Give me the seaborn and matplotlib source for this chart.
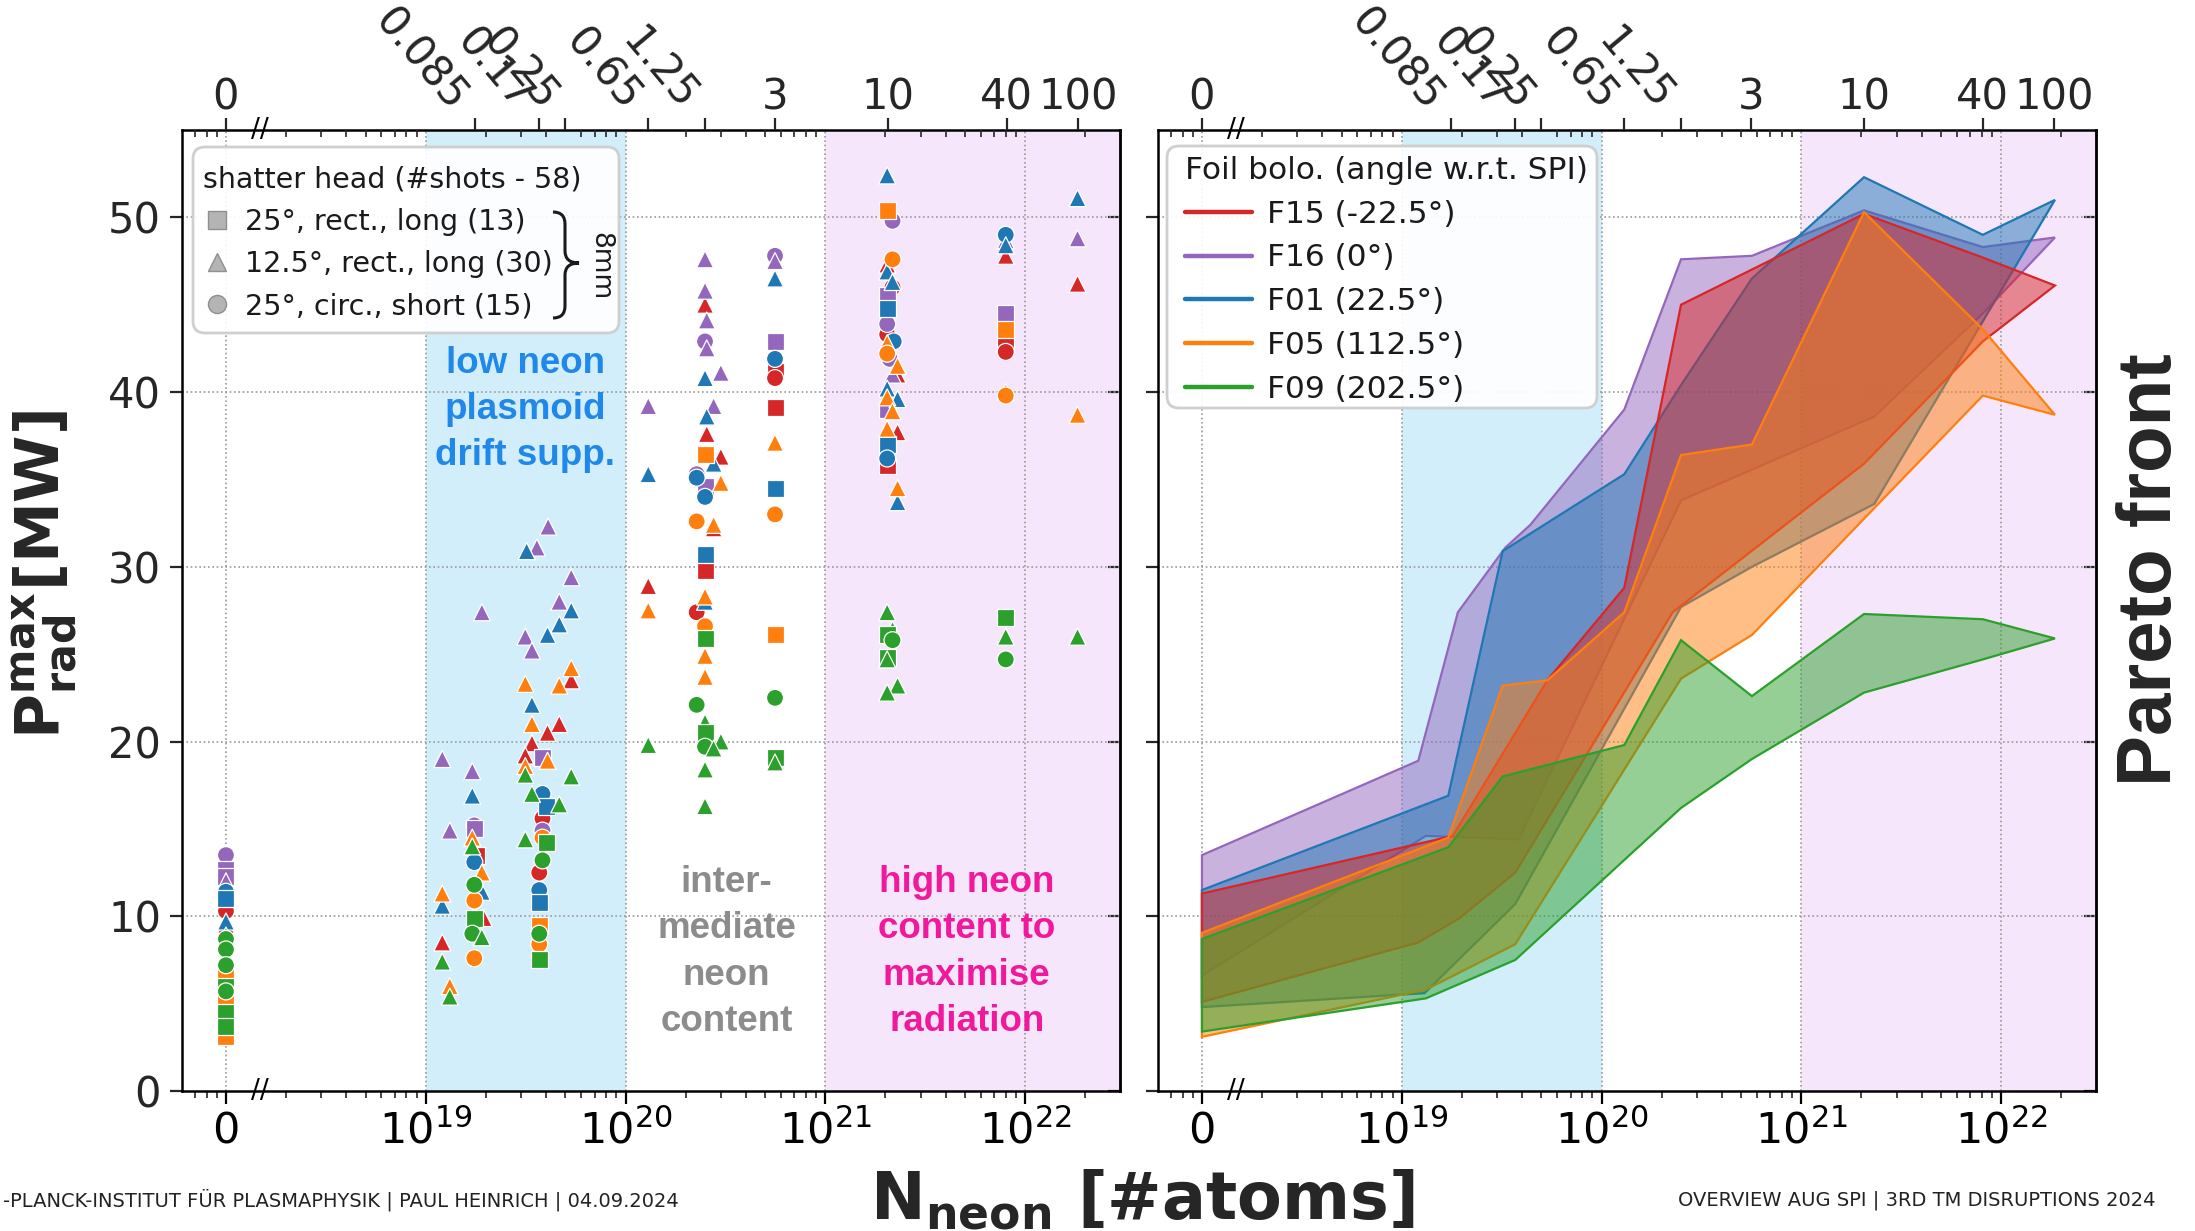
import numpy as np
import pandas as pd
import matplotlib
matplotlib.use("Agg")
import matplotlib.pyplot as plt
import seaborn as sns
from matplotlib.lines import Line2D
from matplotlib.patches import FancyBboxPatch, PathPatch
from matplotlib.path import Path
from matplotlib.ticker import LogLocator, NullFormatter
from matplotlib.colors import to_rgba
import matplotlib.transforms as mtransforms

# ------------------------------------------------------------------ data
bolo_names = ["F15", "F16", "F01", "F05", "F09"]
bolo_labels = ["F15 (-22.5°)", "F16 (0°)", "F01 (22.5°)", "F05 (112.5°)", "F09 (202.5°)"]
bolo_colors = ["#d62728", "#9467bd", "#1f77b4", "#ff7f0e", "#2ca02c"]

heads = ["sq", "tri", "circ"]
head_labels = ["25°, rect., long (13)", "12.5°, rect., long (30)", "25°, circ., short (15)"]
head_markers = {"sq": "s", "tri": "^", "circ": "o"}

bottom_tick_N = [0, 1e19, 1e20, 1e21, 1e22]
bottom_tick_labels = ["0", r"$10^{19}$", r"$10^{20}$", r"$10^{21}$", r"$10^{22}$"]
top_tick_labels = ["0", "0.085", "0.17", "0.25", "0.65", "1.25", "3", "10", "40", "100"]
top_tick_N = [0, 1.76e19, 3.7e19, 5.0e19, 1.3e20, 2.5e20, 5.6e20, 2.05e21, 8.1e21, 1.84e22]
rotated_top = ["0.085", "0.17", "0.25", "0.65", "1.25"]
y_ticks = [0, 10, 20, 30, 40, 50]

# scatter points per bolometer: N_neon [atoms], P_rad^max [MW], shatter head
F15_N = [0, 0, 0, 1.21e19, 1.8e19, 1.95e19, 5.35e19, 4.66e19, 4.07e19, 3.4e19, 3.15e19, 3.84e19, 3.7e19,
         1.3e20, 2.5e20, 2.55e20, 3.0e20, 2.5e20, 2.27e20, 2.76e20, 5.6e20, 5.6e20, 5.6e20,
         2.04e21, 2.17e21, 2.04e21, 2.3e21, 2.3e21, 2.04e21, 8e21, 8e21, 8e21, 1.83e22]
F15_P = [11.1, 10.3, 9.5, 8.5, 13.5, 9.9, 23.5, 21.0, 20.5, 19.9, 19.2, 15.6, 12.5,
         28.9, 45.0, 37.6, 36.3, 29.8, 27.4, 32.2, 41.2, 40.8, 39.1,
         47.3, 46.0, 43.3, 41.0, 37.7, 35.8, 47.8, 42.8, 42.3, 46.2]
F15_head = ["sq", "circ", "tri", "tri", "sq", "tri", "tri", "tri", "tri", "tri", "tri", "circ", "circ",
            "tri", "tri", "tri", "tri", "sq", "circ", "tri", "sq", "circ", "sq",
            "tri", "circ", "circ", "tri", "tri", "sq", "tri", "sq", "circ", "tri"]

F16_N = [0, 0, 0, 0, 1.21e19, 1.32e19, 1.71e19, 1.91e19, 1.75e19, 1.75e19,
         4.1e19, 3.6e19, 5.35e19, 4.66e19, 3.15e19, 3.4e19, 3.84e19, 3.84e19,
         1.3e20, 2.5e20, 2.5e20, 2.55e20, 2.5e20, 2.55e20, 3.0e20, 2.76e20, 2.27e20, 2.5e20,
         5.6e20, 5.6e20, 5.6e20, 2.17e21, 2.04e21, 2.04e21, 2.1e21, 2.17e21, 2.04e21,
         8e21, 8e21, 1.83e22]
F16_P = [13.5, 12.7, 12.3, 12.0, 19.0, 14.9, 18.3, 27.4, 15.2, 15.0,
         32.3, 31.1, 29.4, 28.0, 26.0, 25.2, 19.1, 14.9,
         39.2, 47.6, 45.8, 44.1, 42.9, 42.5, 41.1, 39.2, 35.3, 34.6,
         47.8, 47.5, 42.9, 49.8, 45.5, 43.9, 41.9, 41.0, 39.0,
         48.7, 44.5, 48.8]
F16_head = ["circ", "sq", "sq", "tri", "tri", "tri", "tri", "tri", "circ", "sq",
            "tri", "tri", "tri", "tri", "tri", "tri", "sq", "circ",
            "tri", "tri", "tri", "tri", "circ", "tri", "tri", "tri", "circ", "sq",
            "circ", "tri", "sq", "circ", "sq", "circ", "circ", "tri", "sq",
            "tri", "sq", "tri"]

F01_N = [0, 0, 0, 1.21e19, 1.71e19, 1.75e19, 1.91e19,
         3.2e19, 5.35e19, 4.66e19, 4.07e19, 3.4e19, 3.84e19, 4.0e19, 3.7e19, 3.7e19,
         1.3e20, 2.5e20, 2.55e20, 2.76e20, 2.27e20, 2.5e20, 2.5e20, 2.5e20,
         5.6e20, 5.6e20, 5.6e20,
         2.04e21, 2.04e21, 2.17e21, 2.04e21, 2.2e21, 2.04e21, 2.3e21, 2.04e21, 2.04e21, 2.3e21,
         8e21, 8e21, 1.83e22]
F01_P = [11.4, 11.0, 9.7, 10.6, 16.9, 13.1, 11.4,
         30.9, 27.5, 26.7, 26.1, 22.1, 17.0, 16.3, 11.5, 10.8,
         35.3, 40.8, 38.6, 35.9, 35.1, 34.0, 30.7, 28.0,
         46.5, 41.9, 34.5,
         52.4, 46.9, 46.3, 44.8, 42.9, 40.2, 39.6, 37.0, 36.2, 33.7,
         49.0, 48.4, 51.1]
F01_head = ["circ", "sq", "tri", "tri", "tri", "circ", "tri",
            "tri", "tri", "tri", "tri", "tri", "circ", "sq", "circ", "sq",
            "tri", "tri", "tri", "tri", "circ", "circ", "sq", "tri",
            "tri", "circ", "sq",
            "tri", "tri", "tri", "sq", "circ", "tri", "tri", "sq", "circ", "tri",
            "circ", "tri", "tri"]

F05_N = [0, 0, 0, 0, 1.21e19, 1.32e19, 1.71e19, 1.91e19, 1.75e19, 1.75e19,
         5.35e19, 3.15e19, 4.66e19, 3.4e19, 4.07e19, 3.15e19, 3.84e19, 3.7e19, 3.7e19,
         1.3e20, 2.5e20, 3.0e20, 2.27e20, 2.76e20, 2.5e20, 2.5e20, 2.5e20, 2.5e20,
         5.6e20, 5.6e20, 5.6e20,
         2.04e21, 2.17e21, 2.04e21, 2.04e21, 2.3e21, 2.04e21, 2.17e21, 2.04e21, 2.3e21,
         8e21, 8e21, 8e21, 1.83e22]
F05_P = [6.6, 5.6, 5.1, 3.1, 11.3, 6.0, 14.5, 12.5, 10.9, 7.6,
         24.2, 23.3, 23.2, 21.0, 18.9, 18.6, 14.5, 9.5, 8.4,
         27.5, 36.4, 34.8, 32.6, 32.4, 28.3, 26.6, 24.9, 23.7,
         37.1, 33.0, 26.1,
         50.4, 47.6, 42.8, 42.2, 41.5, 39.7, 38.9, 37.9, 34.5,
         43.6, 40.0, 39.8, 38.7]
F05_head = ["sq", "tri", "sq", "sq", "tri", "tri", "tri", "tri", "circ", "circ",
            "tri", "tri", "tri", "tri", "tri", "tri", "circ", "sq", "circ",
            "tri", "sq", "tri", "circ", "tri", "tri", "circ", "tri", "tri",
            "tri", "circ", "sq",
            "sq", "circ", "tri", "circ", "tri", "tri", "tri", "tri", "tri",
            "sq", "tri", "circ", "tri"]

F09_N = [0, 0, 0, 0, 0, 0, 0, 0, 1.21e19, 1.32e19, 1.71e19, 1.75e19, 1.75e19, 1.71e19, 1.91e19,
         3.15e19, 5.35e19, 3.4e19, 4.66e19, 3.15e19, 4.0e19, 3.84e19, 3.7e19, 3.7e19,
         1.3e20, 2.5e20, 2.27e20, 2.5e20, 2.5e20, 3.0e20, 2.5e20, 2.76e20, 2.5e20, 2.5e20,
         5.6e20, 5.6e20, 5.6e20,
         2.04e21, 2.17e21, 2.04e21, 2.17e21, 2.04e21, 2.04e21, 2.3e21, 2.04e21,
         8e21, 8e21, 8e21, 1.83e22]
F09_P = [8.9, 8.7, 8.1, 7.2, 6.0, 5.7, 4.5, 3.7, 7.4, 5.4, 14.0, 11.8, 9.9, 9.0, 8.8,
         18.1, 18.0, 17.0, 16.4, 14.4, 14.2, 13.2, 9.0, 7.5,
         19.8, 25.9, 22.1, 21.1, 20.5, 20.0, 19.7, 19.6, 18.4, 16.3,
         22.5, 19.1, 18.8,
         27.4, 26.4, 26.1, 25.8, 24.8, 24.7, 23.2, 22.8,
         27.1, 26.0, 24.7, 26.0]
F09_head = ["tri", "circ", "circ", "circ", "sq", "circ", "sq", "sq", "tri", "tri", "tri", "circ", "sq", "circ", "tri",
            "tri", "tri", "tri", "tri", "tri", "sq", "circ", "circ", "sq",
            "tri", "sq", "circ", "tri", "sq", "tri", "circ", "tri", "tri", "tri",
            "circ", "sq", "tri",
            "tri", "tri", "sq", "circ", "sq", "tri", "tri", "tri",
            "sq", "tri", "circ", "tri"]

# Pareto front envelopes per bolometer (upper / lower edges)
F15_up_N = [0, 1.8e19, 5.35e19, 1.3e20, 2.5e20, 2.06e21, 8.1e21, 1.86e22]
F15_up_P = [11.3, 14.6, 23.5, 28.8, 45.0, 50.2, 47.7, 46.1]
F15_lo_N = [0, 1.21e19, 1.95e19, 3.7e19, 2.27e20, 2.06e21, 8.1e21, 1.86e22]
F15_lo_P = [5.1, 8.5, 9.9, 12.5, 27.4, 35.9, 42.9, 46.1]

F16_up_N = [0, 1.21e19, 1.91e19, 3.3e19, 4.4e19, 1.3e20, 2.5e20, 5.66e20, 2.06e21, 8.1e21, 1.86e22]
F16_up_P = [13.5, 18.9, 27.4, 31.1, 32.4, 39.0, 47.6, 47.8, 50.4, 48.3, 48.85]
F16_lo_N = [0, 1.32e19, 3.84e19, 2.5e20, 2.32e21, 8.1e21, 1.86e22]
F16_lo_P = [6.6, 14.6, 14.4, 33.8, 38.6, 44.5, 48.85]

F01_up_N = [0, 1.71e19, 3.2e19, 1.3e20, 2.5e20, 5.66e20, 2.06e21, 8.1e21, 1.86e22]
F01_up_P = [11.5, 16.9, 30.9, 35.3, 40.4, 46.5, 52.3, 49.0, 51.0]
F01_lo_N = [0, 1.3e19, 3.7e19, 2.5e20, 5.66e20, 2.32e21, 1.86e22]
F01_lo_P = [4.8, 5.6, 10.7, 27.7, 30.0, 33.6, 51.0]

F05_up_N = [0, 1.71e19, 3.2e19, 5.35e19, 1.3e20, 2.5e20, 5.66e20, 2.06e21, 8.1e21, 1.86e22]
F05_up_P = [9.05, 14.5, 23.2, 23.5, 27.4, 36.4, 37.0, 50.3, 43.6, 38.7]
F05_lo_N = [0, 1.32e19, 3.7e19, 2.5e20, 5.66e20, 8.1e21, 1.86e22]
F05_lo_P = [3.1, 5.8, 8.4, 23.6, 26.1, 39.8, 38.7]

F09_up_N = [0, 1.71e19, 3.2e19, 1.3e20, 2.5e20, 5.66e20, 2.06e21, 8.1e21, 1.86e22]
F09_up_P = [8.7, 13.95, 18.0, 19.8, 25.8, 22.6, 27.3, 27.0, 25.9]
F09_lo_N = [0, 1.32e19, 3.7e19, 2.5e20, 5.66e20, 2.06e21, 8.1e21, 1.86e22]
F09_lo_P = [3.4, 5.3, 7.5, 16.2, 19.0, 22.8, 24.7, 25.9]

# ------------------------------------------------------------------ setup
W, H = 2195, 1231
ZERO = 1e18            # where "0 atoms" sits on the broken log axis
BREAK_X = 1.48e18
XMIN, XMAX = 10 ** 17.78, 10 ** 22.475
LOW_BG, HIGH_BG = "#d2eefb", "#f6e6fc"


def fx(px):
    return px / W


def fy(py):
    return 1 - py / H


def zpos(values):
    return [ZERO if v == 0 else v for v in values]


sns.set_theme(style="white")
plt.rcParams["font.family"] = ["DejaVu Sans"]
plt.rcParams["mathtext.fontset"] = "dejavusans"

fig = plt.figure(figsize=(W / 100, H / 100), dpi=100)
fig.patch.set_facecolor("white")

ax_pos_b, ax_h = fy(1091), (1091 - 130) / H
axL = fig.add_axes([fx(182), ax_pos_b, 938 / W, ax_h])
axR = fig.add_axes([fx(1158), ax_pos_b, 938 / W, ax_h])


def style_axes(ax, ylabels):
    ax.set_xscale("log")
    ax.set_xlim(XMIN, XMAX)
    ax.set_ylim(0, 55)
    ax.axvspan(1e19, 1e20, color=LOW_BG, lw=0, zorder=0)
    ax.axvspan(1e21, XMAX, color=HIGH_BG, lw=0, zorder=0)
    for xv in zpos(bottom_tick_N):
        ax.axvline(xv, color="#9a9a9a", ls=(0, (1, 1.6)), lw=1.2, zorder=0.5)
    for yv in y_ticks[1:]:
        ax.axhline(yv, color="#9a9a9a", ls=(0, (1, 1.6)), lw=1.2, zorder=0.5)
    ax.set_xticks(zpos(bottom_tick_N))
    ax.set_xticklabels(bottom_tick_labels)
    ax.xaxis.set_minor_locator(LogLocator(base=10, subs=np.arange(2, 10), numticks=60))
    ax.xaxis.set_minor_formatter(NullFormatter())
    ax.tick_params(axis="x", which="major", direction="out", length=9, width=1.6,
                   labelsize=31, pad=5, bottom=True, top=False, colors="black")
    ax.tick_params(axis="x", which="minor", direction="out", length=5, width=1.2,
                   bottom=True, top=False)
    ax.set_yticks(y_ticks)
    ax.tick_params(axis="y", which="major", direction="out", length=9, width=1.6,
                   labelsize=30, left=True, right=False, labelleft=ylabels, pad=6)
    for sp in ax.spines.values():
        sp.set_visible(True)
        sp.set_color("black")
        sp.set_linewidth(1.8)
    sec = ax.secondary_yaxis("right")
    sec.set_yticks(y_ticks)
    sec.tick_params(direction="in", length=9, width=1.6, labelright=False)
    sec.spines["right"].set_linewidth(1.8)

    axT = ax.twiny()
    axT.set_xscale("log")
    axT.set_xlim(XMIN, XMAX)
    axT.set_xticks(zpos(top_tick_N))
    axT.set_xticklabels(top_tick_labels)
    axT.xaxis.set_minor_locator(LogLocator(base=10, subs=np.arange(2, 10), numticks=60))
    axT.xaxis.set_minor_formatter(NullFormatter())
    axT.tick_params(axis="x", which="major", direction="out", length=9, width=1.6,
                    labelsize=30, pad=-1)
    axT.tick_params(axis="x", which="minor", direction="in", length=5, width=1.2)
    for sp in axT.spines.values():
        sp.set_visible(False)
    for lbl in axT.get_xticklabels():
        if lbl.get_text() in rotated_top:
            lbl.set_rotation(-50)
            lbl.set_ha("right")
    tr = mtransforms.blended_transform_factory(ax.transData, ax.transAxes)
    for yv in (0, 1):
        ax.text(BREAK_X, yv, "//", transform=tr, ha="center", va="center",
                fontsize=19, color="black", clip_on=False, zorder=10)


style_axes(axL, True)
style_axes(axR, False)

# ------------------------------------------------------------------ left: scatter
frames = []
for name, N, P, hd in [("F15", F15_N, F15_P, F15_head), ("F16", F16_N, F16_P, F16_head),
                       ("F01", F01_N, F01_P, F01_head), ("F05", F05_N, F05_P, F05_head),
                       ("F09", F09_N, F09_P, F09_head)]:
    frames.append(pd.DataFrame({"N": zpos(N), "P": P, "bolo": name, "head": hd}))
df = pd.concat(frames, ignore_index=True)

sns.scatterplot(data=df, x="N", y="P", hue="bolo", style="head",
                hue_order=bolo_names, palette=bolo_colors,
                style_order=heads, markers=head_markers,
                s=150, edgecolor="white", linewidth=0.9, legend=False,
                ax=axL, zorder=3)
axL.set_xlabel("")
axL.set_ylabel("")

# ------------------------------------------------------------------ right: fronts
bands = {
    "F15": (F15_up_N, F15_up_P, F15_lo_N, F15_lo_P),
    "F16": (F16_up_N, F16_up_P, F16_lo_N, F16_lo_P),
    "F01": (F01_up_N, F01_up_P, F01_lo_N, F01_lo_P),
    "F05": (F05_up_N, F05_up_P, F05_lo_N, F05_lo_P),
    "F09": (F09_up_N, F09_up_P, F09_lo_N, F09_lo_P),
}
color_of = dict(zip(bolo_names, bolo_colors))
for name in ["F16", "F01", "F15", "F05", "F09"]:
    upN, upP, loN, loP = bands[name]
    xs = zpos(upN) + zpos(loN)[::-1]
    ys = list(upP) + list(loP)[::-1]
    axR.fill(xs, ys, facecolor=to_rgba(color_of[name], 0.5),
             edgecolor=color_of[name], lw=1.6, zorder=2)
axR.set_xlabel("")
axR.set_ylabel("")

# ------------------------------------------------------------------ annotations
ann_font = ["Liberation Sans", "DejaVu Sans"]
axL.text(3.15e19, 39.0, "low neon\nplasmoid\ndrift supp.", ha="center", va="center",
         fontsize=26.5, fontweight="bold", family=ann_font, color="#1f88e8",
         linespacing=1.42, zorder=4)
axL.text(3.2e20, 7.95, "inter-\nmediate\nneon\ncontent", ha="center", va="center",
         fontsize=26.5, fontweight="bold", family=ann_font, color="#8c8c8c",
         linespacing=1.42, zorder=4)
axL.text(5.1e21, 7.95, "high neon\ncontent to\nmaximise\nradiation", ha="center", va="center",
         fontsize=26.5, fontweight="bold", family=ann_font, color="#f0199b",
         linespacing=1.42, zorder=4)

# ------------------------------------------------------------------ legends
def frame(ax, x0, y0, x1, y1):
    p = FancyBboxPatch((x0, H - y1), x1 - x0, y1 - y0,
                       boxstyle="round,pad=0,rounding_size=12",
                       transform=mtransforms.IdentityTransform(),
                       facecolor=(1, 1, 1, 0.92), edgecolor="#cfcfcf", lw=2.0,
                       zorder=4.5, clip_on=False)
    ax.add_patch(p)


frame(axL, 193, 147, 619, 333)
frame(axR, 1167, 146, 1597, 408)

head_handles = [Line2D([], [], ls="", marker=head_markers[h], markersize=13,
                       markerfacecolor="#b4b4b4", markeredgecolor="#8f8f8f",
                       markeredgewidth=1.0) for h in heads]
leg1 = axL.legend(head_handles, head_labels, title="shatter head (#shots - 58)",
                  loc="upper left", bbox_to_anchor=(fx(177), fy(140)),
                  bbox_transform=fig.transFigure, frameon=False, fontsize=20.5,
                  title_fontsize=20.5, handlelength=1.0, handletextpad=0.5,
                  labelspacing=0.5, borderpad=0.4, alignment="left")
for t in leg1.get_texts():
    t.set_color("#1a1a1a")
leg1.get_title().set_color("#1a1a1a")
leg1.set_zorder(6)

bolo_handles = [Line2D([], [], color=c, lw=3.2) for c in bolo_colors]
leg2 = axR.legend(bolo_handles, bolo_labels, title="Foil bolo. (angle w.r.t. SPI)",
                  loc="upper left", bbox_to_anchor=(fx(1156.5), fy(128)),
                  bbox_transform=fig.transFigure, frameon=False, fontsize=22.5,
                  title_fontsize=22.5, handlelength=2.15, handletextpad=0.5,
                  labelspacing=0.47, borderpad=0.4, alignment="left")
for t in leg2.get_texts():
    t.set_color("#1a1a1a")
leg2.get_title().set_color("#1a1a1a")
leg2.set_zorder(6)

# brace and "8mm"
bx = [553, 565, 565, 565, 565, 579, 565, 565, 565, 565, 553]
by = [212, 212, 224, 251, 263, 263, 263, 275, 306, 318, 318]
codes = [Path.MOVETO, Path.CURVE3, Path.CURVE3, Path.LINETO, Path.CURVE3, Path.CURVE3,
         Path.CURVE3, Path.CURVE3, Path.LINETO, Path.CURVE3, Path.CURVE3]
brace = PathPatch(Path(list(zip([fx(v) for v in bx], [fy(v) for v in by])), codes),
                  transform=fig.transFigure, facecolor="none", edgecolor="#1a1a1a",
                  lw=2.2, zorder=7, clip_on=False)
axL.add_patch(brace)
fig.text(fx(600), fy(266), "8mm", rotation=-90, ha="center", va="center",
         fontsize=19, color="#1a1a1a", zorder=8)

# ------------------------------------------------------------------ labels
fig.text(fx(45), fy(575), r"$\mathbf{P^{max}_{rad}[MW]}$", rotation=90,
         ha="center", va="center", fontsize=44)
fig.text(fx(1142), fy(1220), r"$\mathbf{N_{neon}}$ [#atoms]", ha="center",
         va="baseline", fontsize=47, fontweight="bold")
fig.text(fx(2151), fy(570), "Pareto front", rotation=90, ha="center", va="center",
         fontsize=55, fontweight="bold", family=ann_font)

fig.text(fx(3), fy(1200), "-PLANCK-INSTITUT FÜR PLASMAPHYSIK | PAUL HEINRICH | 04.09.2024",
         ha="left", va="center", fontsize=14, color="#222222")
fig.text(fx(2156), fy(1200), "OVERVIEW AUG SPI | 3RD TM DISRUPTIONS 2024",
         ha="right", va="center", fontsize=14, color="#222222")

fig.savefig("out.png", dpi=100, facecolor="white")
